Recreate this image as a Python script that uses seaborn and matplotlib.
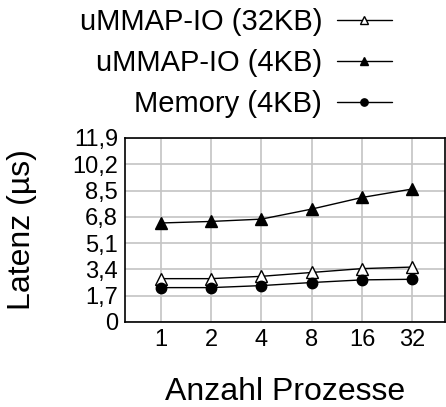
import pandas as pd
import matplotlib
matplotlib.use("Agg")
import matplotlib.pyplot as plt
import seaborn as sns

# Data
procs = ["1", "2", "4", "8", "16", "32"]
ummap_32kb = [2.8, 2.8, 2.95, 3.2, 3.45, 3.55]
ummap_4kb = [6.4, 6.5, 6.65, 7.3, 8.05, 8.6]
memory_4kb = [2.22, 2.22, 2.35, 2.55, 2.72, 2.76]
yticks = [0, 1.7, 3.4, 5.1, 6.8, 8.5, 10.2, 11.9]
ytick_labels = ["0", "1,7", "3,4", "5,1", "6,8", "8,5", "10,2", "11,9"]

sns.set_style("white")
plt.rcParams['font.family'] = ['Liberation Sans', 'DejaVu Sans']
plt.rcParams['text.color'] = 'black'
plt.rcParams['axes.labelcolor'] = 'black'

fig = plt.figure(figsize=(4.46, 4.07), dpi=100)
ax = fig.add_axes([0.280, 0.209, 0.718, 0.452])

series = [
    ("uMMAP-IO (32KB)", ummap_32kb, dict(marker="^", markerfacecolor="white", markersize=9)),
    ("uMMAP-IO (4KB)", ummap_4kb, dict(marker="^", markerfacecolor="black", markersize=9)),
    ("Memory (4KB)", memory_4kb, dict(marker="o", markerfacecolor="black", markersize=7.5)),
]
for name, vals, style in series:
    df = pd.DataFrame({"Prozesse": procs, "Latenz": vals})
    sns.lineplot(data=df, x="Prozesse", y="Latenz", ax=ax, color="black",
                 linewidth=1, markeredgecolor="black", markeredgewidth=1,
                 label=name, zorder=3, **style)

ax.set_xlim(-0.71, 5.65)
ax.set_ylim(0, 11.9)
ax.set_yticks(yticks)
ax.set_yticklabels(ytick_labels)
ax.grid(True, color="#c4c4c4", linewidth=1.2)
ax.tick_params(axis="both", length=0, labelsize=17, pad=5, colors="black")
for s in ax.spines.values():
    s.set_color("black")
    s.set_linewidth(1.2)

ax.set_xlabel("Anzahl Prozesse", fontsize=23, labelpad=19, color="black")
ax.set_ylabel("Latenz (µs)", fontsize=23, labelpad=25, color="black")

handles, labels = ax.get_legend_handles_labels()
leg = ax.legend(handles, labels, loc="upper right", bbox_to_anchor=(0.925, 1.03),
                bbox_transform=fig.transFigure, frameon=False, markerfirst=False,
                fontsize=21, handlelength=1.9, handletextpad=0.5, labelspacing=0.45,
                markerscale=0.7, borderpad=0.2)
for t in leg.get_texts():
    t.set_color("black")

fig.savefig("out.png", dpi=100)
